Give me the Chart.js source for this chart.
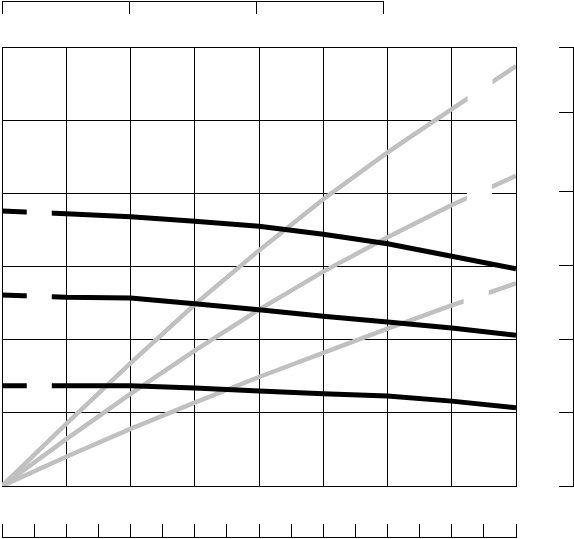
<!DOCTYPE html>
<html lang="en">
  <head>
    <meta charset="UTF-8" />
    <title>Lines</title>
    <script src="https://cdn.jsdelivr.net/npm/chart.js"></script>
    <style>
      body {
        margin: 0;
        background: #fff;
      }
      #chart-container {
        width: 574px;
        height: 539px;
      }
    </style>
  </head>
  <body>
    <div id="chart-container">
      <canvas id="myChart"></canvas>
    </div>

    <script>
      // x positions of the points (one per grid column)
      const xValues = [0, 1, 2, 3, 4, 5, 6, 7, 8];

      // falling black series
      const blackTop = [3.76, 3.72, 3.68, 3.62, 3.55, 3.44, 3.31, 3.14, 2.97];
      const blackMid = [2.61, 2.58, 2.57, 2.49, 2.41, 2.32, 2.24, 2.16, 2.06];
      const blackLow = [1.37, 1.37, 1.37, 1.34, 1.3, 1.26, 1.23, 1.16, 1.07];

      // rising grey series
      const greyTop = [0, 0.85, 1.68, 2.48, 3.22, 3.92, 4.56, 5.15, 5.74];
      const greyMid = [0, 0.64, 1.26, 1.85, 2.41, 2.93, 3.4, 3.84, 4.24];
      const greyLow = [0, 0.4, 0.78, 1.14, 1.49, 1.82, 2.15, 2.47, 2.77];

      // blank label boxes (labels carry no text)
      const labelX = [0.58, 0.58, 0.58, 7.44, 7.43, 7.38];
      const labelY = [3.75, 2.6, 1.36, 5.44, 3.99, 2.65];

      // tick values of the outer axes
      const topTicks = [0, 1, 2, 3];
      const rightTicks = [0, 1, 2, 3.02, 4.02, 5.1, 6];

      function points(ys) {
        return xValues.map((x, i) => ({ x: x, y: ys[i] }));
      }

      function lineSet(ys, color, width) {
        return {
          type: "line",
          data: points(ys),
          borderColor: color,
          borderWidth: width,
          pointRadius: 0,
          tension: 0,
          fill: false,
          order: 1,
        };
      }

      const ctx = document.getElementById("myChart").getContext("2d");
      const myChart = new Chart(ctx, {
        type: "line",
        data: {
          datasets: [
            {
              type: "scatter",
              data: labelX.map((x, i) => ({ x: x, y: labelY[i] })),
              pointStyle: "rect",
              pointRadius: 17.7,
              pointHoverRadius: 17.7,
              pointBackgroundColor: "#fff",
              pointBorderWidth: 0,
              borderWidth: 0,
              order: 0,
            },
            lineSet(blackTop, "#000", 5),
            lineSet(blackMid, "#000", 5),
            lineSet(blackLow, "#000", 5),
            lineSet(greyTop, "#c0c0c0", 4.5),
            lineSet(greyMid, "#c0c0c0", 4.5),
            lineSet(greyLow, "#c0c0c0", 4.5),
          ],
        },
        options: {
          responsive: true,
          maintainAspectRatio: false,
          animation: false,
          events: [],
          layout: {
            autoPadding: false,
            padding: { left: 2, right: 0, top: 0, bottom: 0 },
          },
          plugins: {
            legend: { display: false },
            tooltip: { enabled: false },
          },
          scales: {
            x: {
              type: "linear",
              position: "bottom",
              weight: 0,
              min: 0,
              max: 8,
              ticks: { display: false, stepSize: 1 },
              grid: { color: "#000", lineWidth: 1, drawTicks: false },
              border: { display: true, color: "#000", width: 1 },
              afterFit: (s) => {
                s.height = 51;
              },
            },
            xb: {
              type: "linear",
              position: "bottom",
              weight: 1,
              min: 0,
              max: 8,
              ticks: { display: false, stepSize: 0.5 },
              grid: { drawOnChartArea: false, color: "#000", tickLength: -13 },
              border: { display: true, color: "#000", width: 1 },
              afterFit: (s) => {
                s.height = 2;
              },
            },
            xt: {
              type: "linear",
              position: "top",
              weight: 3,
              stack: "outer",
              stackWeight: 381,
              min: 0,
              max: 3,
              ticks: { display: false },
              afterBuildTicks: (s) => {
                s.ticks = topTicks.map((v) => ({ value: v }));
              },
              grid: { drawOnChartArea: false, color: "#000", tickLength: -13 },
              border: { display: true, color: "#000", width: 1 },
              afterFit: (s) => {
                s.height = 1;
              },
            },
            xtf: {
              type: "linear",
              position: "top",
              weight: 2.5,
              stack: "outer",
              stackWeight: 133,
              ticks: { display: false },
              grid: { display: false },
              border: { display: false },
              afterFit: (s) => {
                s.height = 1;
              },
            },
            xtp: {
              type: "linear",
              position: "top",
              weight: 1,
              ticks: { display: false },
              grid: { display: false },
              border: { display: false },
              afterFit: (s) => {
                s.height = 46;
              },
            },
            y: {
              type: "linear",
              position: "left",
              min: 0,
              max: 6,
              ticks: { display: false, stepSize: 1 },
              grid: { color: "#000", lineWidth: 1, drawTicks: false },
              border: { display: true, color: "#000", width: 1 },
              afterFit: (s) => {
                s.width = 0;
              },
            },
            yrp: {
              type: "linear",
              position: "right",
              weight: 1,
              ticks: { display: false },
              grid: { display: false },
              border: { display: false },
              afterFit: (s) => {
                s.width = 57;
              },
            },
            yr: {
              type: "linear",
              position: "right",
              weight: 2,
              min: 0,
              max: 6,
              ticks: { display: false },
              afterBuildTicks: (s) => {
                s.ticks = rightTicks.map((v) => ({ value: v }));
              },
              grid: { drawOnChartArea: false, color: "#000", tickLength: -14 },
              border: { display: true, color: "#000", width: 1 },
              afterFit: (s) => {
                s.width = 1;
              },
            },
          },
        },
      });
    </script>
  </body>
</html>
